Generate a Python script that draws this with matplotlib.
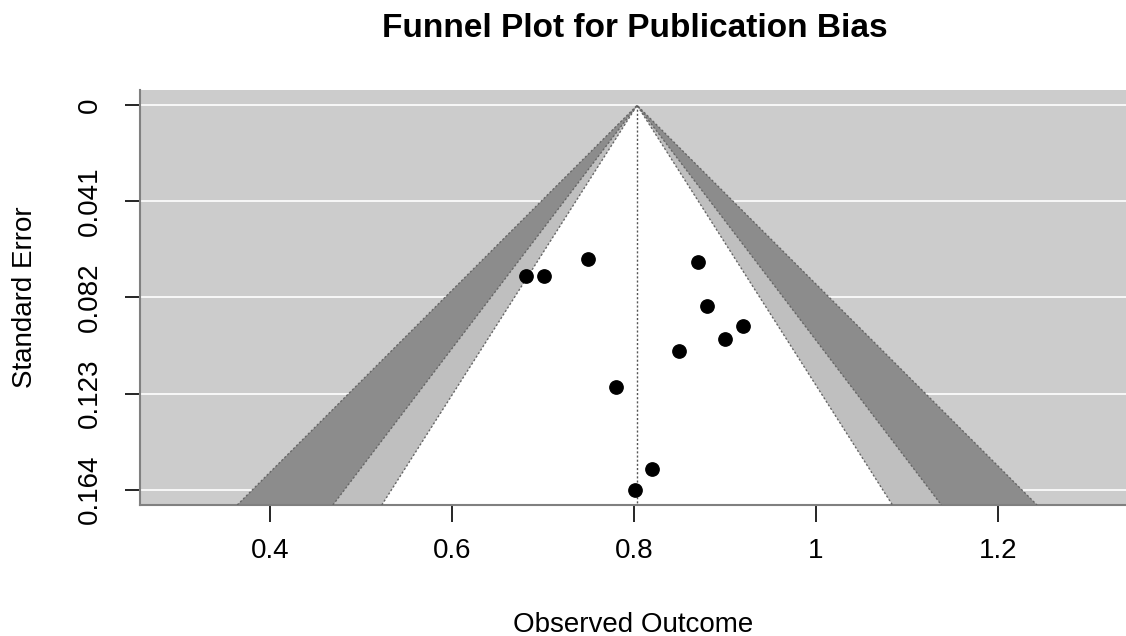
import numpy as np
import matplotlib.pyplot as plt

plt.rcParams['font.family'] = ['Liberation Sans', 'DejaVu Sans']

# study estimates and their standard errors
estimate = [0.681, 0.701, 0.750, 0.870, 0.880, 0.920, 0.900, 0.850, 0.780, 0.820, 0.801]
std_err = [0.0730, 0.0730, 0.0655, 0.0668, 0.0857, 0.0941, 0.0999, 0.1048, 0.1201, 0.1553, 0.1641]

center = 0.8035
levels = [0.90, 0.95, 0.99]
z_vals = [1.645, 1.960, 2.576]
x_ticks = [0.4, 0.6, 0.8, 1.0, 1.2]
x_tick_labels = ['0.4', '0.6', '0.8', '1', '1.2']

se_max = max(std_err)
y_ticks = np.linspace(0, se_max, 5)
y_tick_labels = ['%.3f' % v if v > 0 else '0' for v in y_ticks]
ylim_bottom = se_max * 1.04
ylim_top = -se_max * 0.04

fig = plt.figure(figsize=(11.26, 6.36), dpi=100)
ax = fig.add_axes([0.1243, 0.206, 0.8757, 0.6525])
ax.set_facecolor('#CCCCCC')

# contour regions, widest first
fills = [(2, '#8C8C8C'), (1, '#BFBFBF'), (0, 'white')]
for idx, col in fills:
    z = z_vals[idx]
    xs = [center - z * ylim_bottom, center, center + z * ylim_bottom]
    ys = [ylim_bottom, 0, ylim_bottom]
    ax.fill(xs, ys, color=col, zorder=2, lw=0)
    ax.plot(xs, ys, color='#666666', ls=(0, (1.5, 1.5)), lw=1, zorder=3)

# grid
for yt in y_ticks:
    ax.axhline(yt, color='white', lw=1.2, zorder=1)

ax.plot([center, center], [0, ylim_bottom], color='#555555', ls=(0, (1.5, 1.5)), lw=1, zorder=4)

ax.scatter(estimate, std_err, s=92, color='black', zorder=5)

ax.set_xlim(0.2569, 1.341)
ax.set_ylim(ylim_bottom, ylim_top)

ax.set_xticks(x_ticks)
ax.set_xticklabels(x_tick_labels)
ax.set_yticks(y_ticks)
ax.set_yticklabels(y_tick_labels, rotation=90, va='center')
ax.tick_params(axis='both', labelsize=20, width=1.2, colors='black')
ax.tick_params(axis='x', length=12, pad=12)
ax.tick_params(axis='y', length=11, pad=16)

for side in ['top', 'right']:
    ax.spines[side].set_visible(False)
for side in ['left', 'bottom']:
    ax.spines[side].set_color('#808080')
    ax.spines[side].set_linewidth(1.5)

ax.set_xlabel('Observed Outcome', fontsize=20, labelpad=34)
ax.set_ylabel('Standard Error', fontsize=20, labelpad=28)
fig.text(0.564, 0.955, 'Funnel Plot for Publication Bias', fontsize=24, fontweight='bold',
         ha='center', va='center')

fig.savefig('out.png', dpi=100)
